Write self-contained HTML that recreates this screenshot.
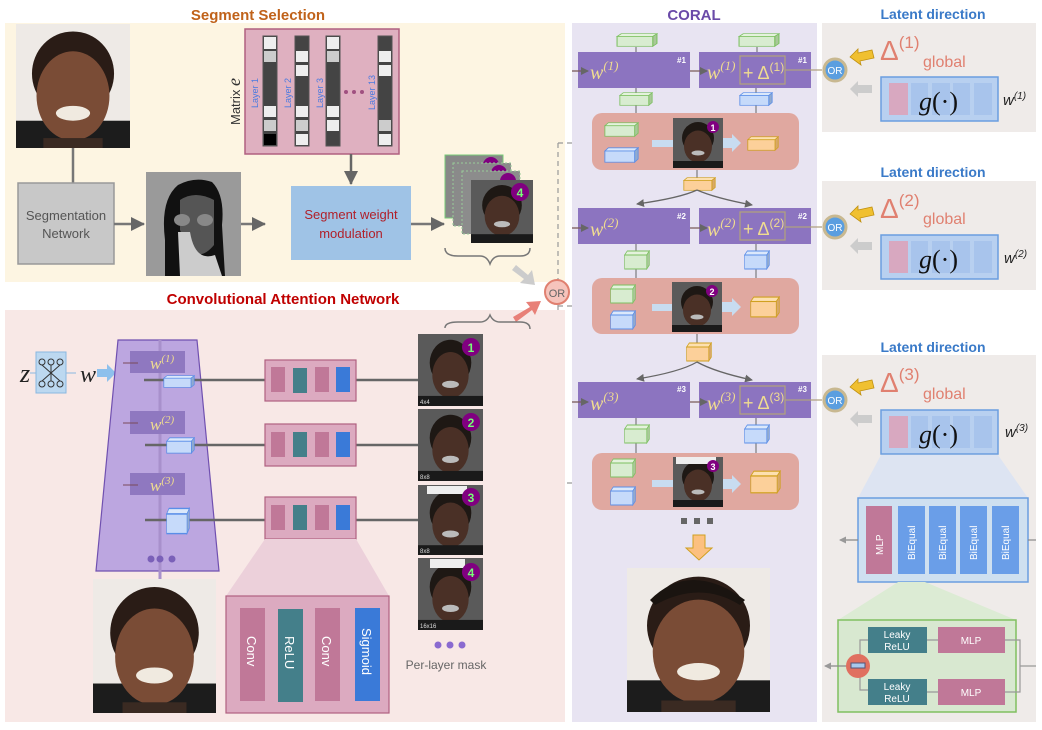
<!DOCTYPE html>
<html><head><meta charset="utf-8"><style>
html,body{margin:0;padding:0;background:#fff}
svg{display:block}
text{font-family:"Liberation Sans",sans-serif}
.ser{font-family:"Liberation Serif",serif;font-style:italic}
</style></head><body>
<svg width="1042" height="730" viewBox="0 0 1042 730" xmlns="http://www.w3.org/2000/svg">
<defs>
<symbol id="face" viewBox="0 0 100 100" preserveAspectRatio="none">
<rect width="100" height="100" fill="#eeeae6"/>
<rect x="0" y="78" width="100" height="22" fill="#1c1c1c"/>
<ellipse cx="50" cy="40" rx="36" ry="34" fill="#2a1c16"/>
<ellipse cx="50" cy="58" rx="32" ry="36" fill="#7a4c36"/>
<ellipse cx="50" cy="72" rx="15" ry="6" fill="#f0eae0"/>
<rect x="24" y="92" width="52" height="8" fill="#3a2a22"/>
</symbol>
<symbol id="mface" viewBox="0 0 100 100" preserveAspectRatio="none">
<rect width="100" height="100" fill="#5a5a5a"/>
<ellipse cx="50" cy="40" rx="32" ry="32" fill="#1e1814"/>
<ellipse cx="50" cy="57" rx="28" ry="32" fill="#4a3026"/>
<ellipse cx="50" cy="70" rx="13" ry="5" fill="#bbb"/>
<rect x="0" y="86" width="100" height="14" fill="#1a1a1a"/>
</symbol>
<symbol id="cg" viewBox="0 0 40 20" preserveAspectRatio="none"><polygon points="1,5 5,1 39,1 35,5" fill="#e4f2dc" stroke="#7cc060"/><polygon points="35,5 39,1 39,15 35,19" fill="#a8c898" stroke="#7cc060"/><rect x="1" y="5" width="34" height="14" fill="#d8ecd0" stroke="#7cc060"/></symbol>
<symbol id="cb" viewBox="0 0 40 20" preserveAspectRatio="none"><polygon points="1,5 5,1 39,1 35,5" fill="#dbe8fb" stroke="#5a8ee8"/><polygon points="35,5 39,1 39,15 35,19" fill="#90aad0" stroke="#5a8ee8"/><rect x="1" y="5" width="34" height="14" fill="#c6dafa" stroke="#5a8ee8"/></symbol>
<symbol id="co" viewBox="0 0 40 20" preserveAspectRatio="none"><polygon points="1,5 5,1 39,1 35,5" fill="#fde0b0" stroke="#d0a020"/><polygon points="35,5 39,1 39,15 35,19" fill="#d8a868" stroke="#d0a020"/><rect x="1" y="5" width="34" height="14" fill="#fcd09a" stroke="#d0a020"/></symbol>
<marker id="ah" markerWidth="8" markerHeight="8" refX="7" refY="4" orient="auto" markerUnits="userSpaceOnUse"><path d="M0,0 L8,4 L0,8z" fill="#666"/></marker>
<marker id="ahb" markerWidth="14" markerHeight="14" refX="13" refY="7" orient="auto" markerUnits="userSpaceOnUse"><path d="M0,0 L14,7 L0,14z" fill="#666"/></marker>
<marker id="ahg" markerWidth="7" markerHeight="7" refX="6" refY="3.5" orient="auto" markerUnits="userSpaceOnUse"><path d="M0,0 L7,3.5 L0,7z" fill="#999"/></marker>
</defs>

<rect x="5" y="23" width="560" height="259" fill="#fdf5e2"/>
<text x="258" y="20" text-anchor="middle" font-size="15" font-weight="bold" fill="#c0621a">Segment Selection</text>
<use href="#face" x="16" y="24" width="114" height="124"/>
<line x1="73" y1="148" x2="73" y2="183" stroke="#777" stroke-width="2.5"/>
<rect x="18" y="183" width="96" height="81" fill="#c8c8c8" stroke="#999" stroke-width="1.5"/>
<text x="66" y="220" text-anchor="middle" font-size="13" fill="#555">Segmentation</text>
<text x="66" y="238" text-anchor="middle" font-size="13" fill="#555">Network</text>
<line x1="114" y1="224" x2="144" y2="224" stroke="#777" stroke-width="2.5" marker-end="url(#ahb)"/>
<rect x="146" y="172" width="95" height="104" fill="#9a9a9a"/>
<path d="M165,276 L165,240 Q160,200 178,185 Q195,176 212,182 Q225,195 222,225 L225,276z" fill="#111"/>
<path d="M180,200 Q195,190 214,200 L214,245 Q200,262 188,248 L180,230z" fill="#555"/>
<ellipse cx="182" cy="220" rx="8" ry="6" fill="#888"/><ellipse cx="205" cy="220" rx="8" ry="6" fill="#888"/>
<path d="M178,232 L190,232 Q195,262 215,255 L222,276 L180,276z" fill="#ccc"/>
<line x1="241" y1="224" x2="265" y2="224" stroke="#777" stroke-width="2.5" marker-end="url(#ahb)"/>
<rect x="245" y="29" width="154" height="125" fill="#dfb0c0" stroke="#b06080" stroke-width="1.5"/>
<text transform="translate(240,125) rotate(-90)" font-size="13" fill="#333">Matrix <tspan class="ser" font-size="18">e</tspan></text>
<g font-size="9" fill="#4a7ae0">
<text transform="translate(258,108) rotate(-90)">Layer 1</text>
<text transform="translate(291,108) rotate(-90)">Layer 2</text>
<text transform="translate(323,108) rotate(-90)">Layer 3</text>
<text transform="translate(375,110) rotate(-90)">Layer 13</text>
</g>
<g fill="#a05080"><circle cx="346" cy="92" r="2"/><circle cx="354" cy="92" r="2"/><circle cx="362" cy="92" r="2"/></g>
<g stroke="#555" stroke-width="1">
<rect x="263" y="36" width="14" height="110" fill="#444"/>
<rect x="295" y="36" width="14" height="110" fill="#444"/>
<rect x="326" y="36" width="14" height="110" fill="#444"/>
<rect x="378" y="36" width="14" height="110" fill="#444"/>
</g>
<g fill="#eee">
<rect x="264" y="37" width="12" height="12"/><rect x="264" y="51" width="12" height="11" fill="#ccc"/><rect x="264" y="106" width="12" height="11"/><rect x="264" y="120" width="12" height="11" fill="#ccc"/><rect x="264" y="134" width="12" height="11" fill="#000"/>
<rect x="296" y="51" width="12" height="11"/><rect x="296" y="65" width="12" height="11"/><rect x="296" y="106" width="12" height="11"/><rect x="296" y="120" width="12" height="11" fill="#ccc"/><rect x="296" y="134" width="12" height="11"/>
<rect x="327" y="37" width="12" height="12"/><rect x="327" y="51" width="12" height="11" fill="#ccc"/><rect x="327" y="106" width="12" height="11"/><rect x="327" y="120" width="12" height="11"/>
<rect x="379" y="51" width="12" height="11"/><rect x="379" y="65" width="12" height="11"/><rect x="379" y="120" width="12" height="11" fill="#ccc"/><rect x="379" y="134" width="12" height="11"/>
</g>
<line x1="351" y1="154" x2="351" y2="184" stroke="#666" stroke-width="2.5" marker-end="url(#ahb)"/>
<rect x="291" y="186" width="120" height="74" fill="#9fc3e6"/>
<text x="351" y="219" text-anchor="middle" font-size="13" fill="#b0202a">Segment weight</text>
<text x="351" y="238" text-anchor="middle" font-size="13" fill="#b0202a">modulation</text>
<line x1="411" y1="224" x2="444" y2="224" stroke="#777" stroke-width="2.5" marker-end="url(#ahb)"/>
<g>
<rect x="445" y="155" width="58" height="63" fill="#888" stroke="#7c7"/><circle cx="491" cy="165" r="8" fill="#800080"/>
<rect x="453" y="163" width="58" height="63" fill="#8a8a8a" stroke="#9c9" stroke-dasharray="2,2"/><circle cx="499" cy="173" r="8" fill="#800080"/>
<rect x="462" y="171" width="58" height="63" fill="#8c8c8c" stroke="#9c9" stroke-dasharray="2,2"/><circle cx="508" cy="181" r="8" fill="#800080"/>
<use href="#mface" x="471" y="180" width="62" height="63"/>
<circle cx="520" cy="192" r="9" fill="#800080"/><text x="520" y="197" text-anchor="middle" font-size="12" font-weight="bold" fill="#7f7">4</text>
</g>
<path d="M445,248 Q445,256 458,256 L480,256 Q487,256 490,264 Q493,256 500,256 L520,256 Q530,256 530,248" fill="none" stroke="#777" stroke-width="1.5"/>
<path d="M516,265 L528,275 L532,270 L535,285 L520,283 L524,279 L512,270z" fill="#ccc"/>

<line x1="558" y1="143" x2="558" y2="483" stroke="#999" stroke-width="1.2" stroke-dasharray="5,4"/>
<line x1="558" y1="143" x2="590" y2="143" stroke="#999" stroke-width="1.2" stroke-dasharray="5,4" marker-end="url(#ahg)"/>
<line x1="558" y1="306" x2="590" y2="306" stroke="#999" stroke-width="1.2" stroke-dasharray="5,4" marker-end="url(#ahg)"/>
<line x1="558" y1="483" x2="590" y2="483" stroke="#999" stroke-width="1.2" stroke-dasharray="5,4" marker-end="url(#ahg)"/>
<circle cx="557" cy="292" r="12" fill="#f6c4bc" stroke="#e08070" stroke-width="2"/>
<text x="557" y="297" text-anchor="middle" font-size="11" fill="#666">OR</text>

<rect x="5" y="310" width="560" height="412" fill="#f8e8e6"/>
<text x="283" y="304" text-anchor="middle" font-size="15" font-weight="bold" fill="#c00000">Convolutional Attention Network</text>
<path d="M513,317 L530,307 L526,302 L541,301 L535,315 L532,310 L516,322z" fill="#e88078"/>
<path d="M445,328 Q445,322 458,322 L480,322 Q487,322 490,315 Q493,322 500,322 L520,322 Q530,322 530,329" fill="none" stroke="#777" stroke-width="1.5"/>
<text x="20" y="382" class="ser" font-size="26" fill="#222">z</text>
<rect x="36" y="352" width="30" height="41" fill="#bcd8f0" stroke="#8ab8e0"/>
<g fill="none" stroke="#333" stroke-width="1"><circle cx="42" cy="362" r="3"/><circle cx="51" cy="362" r="3"/><circle cx="60" cy="362" r="3"/><circle cx="42" cy="384" r="3"/><circle cx="51" cy="384" r="3"/><circle cx="60" cy="384" r="3"/><path d="M42,365 L60,381 M60,365 L42,381 M51,365 L51,381"/></g>
<line x1="30" y1="373" x2="36" y2="373" stroke="#8ab8e0"/><line x1="66" y1="373" x2="76" y2="373" stroke="#8ab8e0"/>
<text x="80" y="382" class="ser" font-size="24" fill="#222">w</text>
<path d="M97,369 L107,369 L107,364 L116,373 L107,382 L107,377 L97,377z" fill="#8ec0ec"/>
<polygon points="118,340 197,340 219,571 96,571" fill="#bca6e0" stroke="#7050b0" stroke-width="1.2"/>
<line x1="160" y1="340" x2="160" y2="580" stroke="#a890cc" stroke-width="3"/>
<g>
<rect x="130" y="351" width="55" height="22" fill="#8f78c0"/><text x="150" y="369" class="ser" font-size="17" fill="#f0dc90">w<tspan font-size="11" dy="-7">(1)</tspan></text>
<rect x="130" y="411" width="55" height="23" fill="#8f78c0"/><text x="150" y="430" class="ser" font-size="17" fill="#f0dc90">w<tspan font-size="11" dy="-7">(2)</tspan></text>
<rect x="130" y="473" width="55" height="22" fill="#8f78c0"/><text x="150" y="491" class="ser" font-size="17" fill="#f0dc90">w<tspan font-size="11" dy="-7">(3)</tspan></text>
<path d="M123,363 L138,363 M123,423 L138,423 M123,485 L138,485" stroke="#7a4a5a" stroke-width="1"/>
</g>
<line x1="144" y1="380" x2="440" y2="380" stroke="#666" stroke-width="2.5" marker-end="url(#ahb)"/>
<line x1="145" y1="445" x2="440" y2="445" stroke="#666" stroke-width="2.5" marker-end="url(#ahb)"/>
<line x1="145" y1="520" x2="440" y2="520" stroke="#666" stroke-width="2.5" marker-end="url(#ahb)"/>
<use href="#cb" x="163" y="375" width="32" height="13"/>
<use href="#cb" x="166" y="437" width="29" height="17"/>
<use href="#cb" x="166" y="507" width="24" height="28"/>
<g fill="#7a60b8"><circle cx="151" cy="559" r="3.5"/><circle cx="160" cy="559" r="3.5"/><circle cx="172" cy="559" r="3.5"/></g>
<g>
<rect x="265" y="360" width="91" height="41" fill="#dcaac0" stroke="#b06080" stroke-width="1.2"/>
<rect x="271" y="367" width="14" height="25" fill="#c07898"/><rect x="293" y="368" width="14" height="25" fill="#447f8a"/><rect x="315" y="367" width="14" height="25" fill="#c07898"/><rect x="336" y="367" width="14" height="25" fill="#3a7ad8"/>
<rect x="265" y="424" width="91" height="42" fill="#dcaac0" stroke="#b06080" stroke-width="1.2"/>
<rect x="271" y="432" width="14" height="25" fill="#c07898"/><rect x="293" y="432" width="14" height="25" fill="#447f8a"/><rect x="315" y="432" width="14" height="25" fill="#c07898"/><rect x="336" y="432" width="14" height="25" fill="#3a7ad8"/>
<rect x="265" y="497" width="91" height="42" fill="#dcaac0" stroke="#b06080" stroke-width="1.2"/>
<rect x="271" y="505" width="14" height="25" fill="#c07898"/><rect x="293" y="505" width="14" height="25" fill="#447f8a"/><rect x="315" y="505" width="14" height="25" fill="#c07898"/><rect x="336" y="505" width="14" height="25" fill="#3a7ad8"/>
</g>
<polygon points="265,539 356,539 389,596 226,596" fill="#ecd0da"/>
<rect x="226" y="596" width="163" height="117" fill="#dcaac0" stroke="#b06080" stroke-width="1.2"/>
<rect x="240" y="608" width="25" height="93" fill="#c07898"/><rect x="278" y="609" width="25" height="93" fill="#447f8a"/><rect x="315" y="608" width="25" height="93" fill="#c07898"/><rect x="355" y="608" width="25" height="93" fill="#3a7ad8"/>
<g font-size="13" fill="#fff">
<text transform="translate(247,636) rotate(90)">Conv</text>
<text transform="translate(285,636) rotate(90)">ReLU</text>
<text transform="translate(322,636) rotate(90)">Conv</text>
<text transform="translate(362,628) rotate(90)">Sigmoid</text>
</g>
<use href="#face" x="93" y="579" width="123" height="134"/>
<g>
<use href="#mface" x="418" y="334" width="65" height="72"/>
<use href="#mface" x="418" y="409" width="65" height="72"/>
<use href="#mface" x="418" y="485" width="65" height="70"/>
<rect x="427" y="486" width="40" height="8" fill="#eee"/>
<use href="#mface" x="418" y="558" width="65" height="72"/>
<rect x="430" y="559" width="35" height="9" fill="#eee"/>
<g fill="#800080"><circle cx="471" cy="347" r="9"/><circle cx="471" cy="422" r="9"/><circle cx="471" cy="497" r="9"/><circle cx="471" cy="572" r="9"/></g>
<g font-size="12" font-weight="bold" fill="#7f7" text-anchor="middle"><text x="471" y="352">1</text><text x="471" y="427">2</text><text x="471" y="502">3</text><text x="471" y="577">4</text></g>
<g font-size="6" fill="#ddd"><text x="420" y="404">4x4</text><text x="420" y="479">8x8</text><text x="420" y="553">8x8</text><text x="420" y="628">16x16</text></g>
</g>
<g fill="#8a6ad0"><circle cx="438" cy="645" r="3.5"/><circle cx="450" cy="645" r="3.5"/><circle cx="462" cy="645" r="3.5"/></g>
<text x="446" y="669" text-anchor="middle" font-size="12" fill="#666">Per-layer mask</text>

<rect x="572" y="23" width="245" height="699" fill="#e8e4f2"/>
<text x="694" y="20" text-anchor="middle" font-size="15" font-weight="bold" fill="#6a4aa8">CORAL</text>
<g>
<line x1="636" y1="47" x2="636" y2="52" stroke="#666"/><line x1="757" y1="47" x2="757" y2="52" stroke="#666"/>
<use href="#cg" x="616" y="33" width="42" height="14"/><use href="#cg" x="738" y="33" width="42" height="14"/>
<rect x="578" y="52" width="112" height="36" fill="#8c74c0"/><rect x="699" y="52" width="112" height="36" fill="#8c74c0"/>
<line x1="572" y1="71" x2="588" y2="71" stroke="#7a5a5a" stroke-width="1.3" marker-end="url(#ah)"/>
<line x1="690" y1="71" x2="707" y2="71" stroke="#7a5a5a" stroke-width="1.3" marker-end="url(#ah)"/>
<text x="590" y="79" class="ser" font-size="20" fill="#f0dc90">w<tspan font-size="13" dy="-9">(1)</tspan></text>
<text x="707" y="79" class="ser" font-size="20" fill="#f0dc90">w<tspan font-size="13" dy="-9">(1)</tspan></text>
<rect x="740" y="56" width="45" height="28" fill="none" stroke="#b0a080" stroke-width="1.3"/>
<text x="743" y="79" font-family="Liberation Serif" font-size="18" fill="#f0dc90">+ Δ<tspan font-size="12" dy="-8">(1)</tspan></text>
<text x="677" y="63" font-size="8" font-weight="bold" fill="#fff">#1</text><text x="798" y="63" font-size="8" font-weight="bold" fill="#fff">#1</text>
<line x1="785" y1="70" x2="823" y2="70" stroke="#b0a080" stroke-width="1.3"/>
<line x1="636" y1="88" x2="636" y2="113" stroke="#666"/><line x1="756" y1="88" x2="756" y2="113" stroke="#666"/>
<use href="#cg" x="619" y="92" width="34" height="14"/><use href="#cb" x="739" y="92" width="34" height="14"/>
<rect x="592" y="113" width="207" height="57" rx="10" fill="#e0a8a0"/>
<use href="#cg" x="604" y="122" width="35" height="15"/><use href="#cb" x="604" y="147" width="35" height="16"/>
<rect x="652" y="140" width="22" height="7" fill="#c8dcf0"/><path d="M722,138 L732,138 L732,134 L741,143 L732,152 L732,148 L722,148z" fill="#c8dcf0"/>
<use href="#mface" x="673" y="118" width="50" height="50"/><circle cx="713" cy="127" r="6" fill="#800080"/><text x="713" y="131" text-anchor="middle" font-size="9" font-weight="bold" fill="#fff">1</text>
<use href="#co" x="747" y="136" width="32" height="15"/>
<line x1="697" y1="170" x2="697" y2="180" stroke="#666"/>
<use href="#co" x="683" y="177" width="33" height="14"/>
<path d="M697,190 Q680,198 637,204" fill="none" stroke="#666" stroke-width="1.3" marker-end="url(#ah)"/>
<path d="M697,190 Q715,198 752,205" fill="none" stroke="#666" stroke-width="1.3" marker-end="url(#ah)"/>
<rect x="578" y="208" width="112" height="36" fill="#8c74c0"/><rect x="699" y="208" width="112" height="36" fill="#8c74c0"/>
<line x1="572" y1="228" x2="588" y2="228" stroke="#7a5a5a" stroke-width="1.3" marker-end="url(#ah)"/>
<line x1="690" y1="228" x2="707" y2="228" stroke="#7a5a5a" stroke-width="1.3" marker-end="url(#ah)"/>
<text x="590" y="236" class="ser" font-size="20" fill="#f0dc90">w<tspan font-size="13" dy="-9">(2)</tspan></text>
<text x="707" y="236" class="ser" font-size="20" fill="#f0dc90">w<tspan font-size="13" dy="-9">(2)</tspan></text>
<rect x="740" y="212" width="45" height="28" fill="none" stroke="#b0a080" stroke-width="1.3"/>
<text x="743" y="235" font-family="Liberation Serif" font-size="18" fill="#f0dc90">+ Δ<tspan font-size="12" dy="-8">(2)</tspan></text>
<text x="677" y="219" font-size="8" font-weight="bold" fill="#fff">#2</text><text x="798" y="219" font-size="8" font-weight="bold" fill="#fff">#2</text>
<line x1="785" y1="227" x2="823" y2="227" stroke="#b0a080" stroke-width="1.3"/>
<line x1="636" y1="244" x2="636" y2="278" stroke="#666"/><line x1="756" y1="244" x2="756" y2="278" stroke="#666"/>
<use href="#cg" x="624" y="250" width="26" height="20"/><use href="#cb" x="744" y="250" width="26" height="20"/>
<rect x="592" y="278" width="207" height="56" rx="10" fill="#e0a8a0"/>
<use href="#cg" x="610" y="284" width="26" height="20"/><use href="#cb" x="610" y="310" width="26" height="20"/>
<rect x="652" y="304" width="22" height="7" fill="#c8dcf0"/><path d="M722,302 L732,302 L732,298 L741,307 L732,316 L732,312 L722,312z" fill="#c8dcf0"/>
<use href="#mface" x="672" y="282" width="50" height="50"/><circle cx="712" cy="291" r="6" fill="#800080"/><text x="712" y="295" text-anchor="middle" font-size="9" font-weight="bold" fill="#fff">2</text>
<use href="#co" x="750" y="296" width="30" height="22"/>
<line x1="697" y1="334" x2="697" y2="345" stroke="#666"/>
<use href="#co" x="686" y="342" width="26" height="20"/>
<path d="M697,362 Q680,372 637,379" fill="none" stroke="#666" stroke-width="1.3" marker-end="url(#ah)"/>
<path d="M697,362 Q715,372 752,380" fill="none" stroke="#666" stroke-width="1.3" marker-end="url(#ah)"/>
<rect x="578" y="382" width="112" height="36" fill="#8c74c0"/><rect x="699" y="382" width="112" height="36" fill="#8c74c0"/>
<line x1="572" y1="402" x2="588" y2="402" stroke="#7a5a5a" stroke-width="1.3" marker-end="url(#ah)"/>
<line x1="690" y1="402" x2="707" y2="402" stroke="#7a5a5a" stroke-width="1.3" marker-end="url(#ah)"/>
<text x="590" y="410" class="ser" font-size="20" fill="#f0dc90">w<tspan font-size="13" dy="-9">(3)</tspan></text>
<text x="707" y="410" class="ser" font-size="20" fill="#f0dc90">w<tspan font-size="13" dy="-9">(3)</tspan></text>
<rect x="740" y="386" width="45" height="28" fill="none" stroke="#b0a080" stroke-width="1.3"/>
<text x="743" y="409" font-family="Liberation Serif" font-size="18" fill="#f0dc90">+ Δ<tspan font-size="12" dy="-8">(3)</tspan></text>
<text x="677" y="392" font-size="8" font-weight="bold" fill="#fff">#3</text><text x="798" y="392" font-size="8" font-weight="bold" fill="#fff">#3</text>
<line x1="785" y1="400" x2="823" y2="400" stroke="#b0a080" stroke-width="1.3"/>
<line x1="636" y1="418" x2="636" y2="453" stroke="#666"/><line x1="756" y1="418" x2="756" y2="453" stroke="#666"/>
<use href="#cg" x="624" y="424" width="26" height="20"/><use href="#cb" x="744" y="424" width="26" height="20"/>
<rect x="592" y="453" width="207" height="57" rx="10" fill="#e0a8a0"/>
<use href="#cg" x="610" y="458" width="26" height="20"/><use href="#cb" x="610" y="486" width="26" height="20"/>
<rect x="652" y="480" width="22" height="7" fill="#c8dcf0"/><path d="M722,479 L732,479 L732,475 L741,484 L732,493 L732,489 L722,489z" fill="#c8dcf0"/>
<use href="#mface" x="673" y="457" width="50" height="50"/><rect x="676" y="457" width="40" height="7" fill="#eee"/><circle cx="713" cy="466" r="6" fill="#800080"/><text x="713" y="470" text-anchor="middle" font-size="9" font-weight="bold" fill="#fff">3</text>
<use href="#co" x="750" y="470" width="31" height="24"/>
</g>
<g fill="#666"><rect x="681" y="518" width="6" height="6"/><rect x="694" y="518" width="6" height="6"/><rect x="707" y="518" width="6" height="6"/></g>
<path d="M693,535 L705,535 L705,548 L712,548 L699,560 L686,548 L693,548z" fill="#fcc080" stroke="#d0a020"/>
<use href="#face" x="627" y="568" width="143" height="144"/>
<path d="M650,600 Q690,560 745,600 L740,605 Q700,580 655,605z" fill="#1a1410"/>

<rect x="822" y="23" width="214" height="109" fill="#efebe9"/>
<rect x="822" y="181" width="214" height="109" fill="#efebe9"/>
<rect x="822" y="355" width="214" height="367" fill="#efebe9"/>
<g font-size="14" font-weight="bold" fill="#3a7ac8" text-anchor="middle">
<text x="933" y="19">Latent direction</text><text x="933" y="177">Latent direction</text><text x="933" y="352">Latent direction</text>
</g>
<g font-family="Liberation Serif" fill="#e08070">
<text x="880" y="60" font-size="28">Δ<tspan font-size="17" dy="-12">(1)</tspan></text><text x="923" y="67" font-size="16">global</text>
<text x="880" y="218" font-size="28">Δ<tspan font-size="17" dy="-12">(2)</tspan></text><text x="923" y="224" font-size="16">global</text>
<text x="880" y="392" font-size="28">Δ<tspan font-size="17" dy="-12">(3)</tspan></text><text x="923" y="399" font-size="16">global</text>
</g>
<g id="gbox">
<rect x="881" y="77" width="117" height="44" fill="#b8d0f0" stroke="#6a9ee0" stroke-width="1.5"/>
<rect x="889" y="83" width="19" height="32" fill="#d8a8c0"/><rect x="911" y="83" width="17" height="32" fill="#a8c4ec"/><rect x="932" y="83" width="18" height="32" fill="#a8c4ec"/><rect x="953" y="83" width="17" height="32" fill="#a8c4ec"/><rect x="974" y="83" width="18" height="32" fill="#a8c4ec"/>
<text x="919" y="110" class="ser" font-size="26" fill="#111">g<tspan font-style="normal">(·)</tspan></text>
</g>
<use href="#gbox" x="0" y="158"/>
<use href="#gbox" x="0" y="333"/>
<g class="ser" font-size="15" fill="#222">
<text x="1003" y="105">w<tspan font-size="10" dy="-6">(1)</tspan></text>
<text x="1004" y="263">w<tspan font-size="10" dy="-6">(2)</tspan></text>
<text x="1005" y="437">w<tspan font-size="10" dy="-6">(3)</tspan></text>
</g>
<g>
<circle cx="835" cy="70" r="11" fill="#5a9ee0" stroke="#c8b890" stroke-width="3"/><text x="835" y="74" text-anchor="middle" font-size="10" fill="#fff">OR</text>
<circle cx="835" cy="227" r="11" fill="#5a9ee0" stroke="#c8b890" stroke-width="3"/><text x="835" y="231" text-anchor="middle" font-size="10" fill="#fff">OR</text>
<circle cx="835" cy="400" r="11" fill="#5a9ee0" stroke="#c8b890" stroke-width="3"/><text x="835" y="404" text-anchor="middle" font-size="10" fill="#fff">OR</text>
</g>
<g id="arrs">
<path d="M850,57 L858,49 L858,53 L872,50 L874,58 L860,61 L861,65z" fill="#f0c030" stroke="#c09010" stroke-width="0.8"/>
<path d="M850,89 L858,81 L858,85 L872,85 L872,93 L858,93 L858,97z" fill="#ccc"/>
</g>
<use href="#arrs" x="0" y="157"/>
<use href="#arrs" x="0" y="330"/>
<polygon points="881,455 998,455 1028,498 858,498" fill="#dde4f2"/>
<rect x="858" y="498" width="170" height="84" fill="#cfe0f0" stroke="#6a9ee0" stroke-width="1.5"/>
<rect x="866" y="506" width="26" height="68" fill="#c07898"/>
<rect x="898" y="506" width="27" height="68" fill="#6a9ee8"/><rect x="929" y="506" width="27" height="68" fill="#6a9ee8"/><rect x="960" y="506" width="27" height="68" fill="#6a9ee8"/><rect x="992" y="506" width="27" height="68" fill="#6a9ee8"/>
<g font-size="10" fill="#fff">
<text transform="translate(883,555) rotate(-90)">MLP</text>
<text transform="translate(915,560) rotate(-90)">BiEqual</text>
<text transform="translate(946,560) rotate(-90)">BiEqual</text>
<text transform="translate(977,560) rotate(-90)">BiEqual</text>
<text transform="translate(1009,560) rotate(-90)">BiEqual</text>
</g>
<line x1="858" y1="540" x2="840" y2="540" stroke="#888" stroke-width="1.2" marker-end="url(#ahg)"/>
<line x1="1028" y1="540" x2="1036" y2="540" stroke="#888" stroke-width="1.2"/>
<polygon points="898,582 925,582 1016,620 838,620" fill="#dcebd4"/>
<rect x="838" y="620" width="178" height="92" fill="#d8e8d0" stroke="#80c060" stroke-width="1.5"/>
<path d="M868,640 L860,640 L860,690 L868,690 M927,640 L938,640 M927,692 L938,692 M1005,640 L1020,640 L1020,692 L1005,692 M1020,666 L1036,666" fill="none" stroke="#999" stroke-width="1.2"/>
<rect x="868" y="627" width="59" height="26" fill="#447f8a"/><rect x="868" y="679" width="59" height="26" fill="#447f8a"/>
<rect x="938" y="627" width="67" height="26" fill="#c07898"/><rect x="938" y="679" width="67" height="26" fill="#c07898"/>
<g font-size="10" fill="#fff" text-anchor="middle">
<text x="897" y="638">Leaky</text><text x="897" y="650">ReLU</text>
<text x="897" y="690">Leaky</text><text x="897" y="702">ReLU</text>
<text x="971" y="644">MLP</text><text x="971" y="696">MLP</text>
</g>
<line x1="847" y1="666" x2="825" y2="666" stroke="#888" stroke-width="1.2" marker-end="url(#ahg)"/>
<circle cx="858" cy="666" r="12" fill="#e07060"/>
<rect x="851" y="663" width="14" height="5" fill="#a8c8ec" stroke="#557"/>
</svg>
</body></html>
